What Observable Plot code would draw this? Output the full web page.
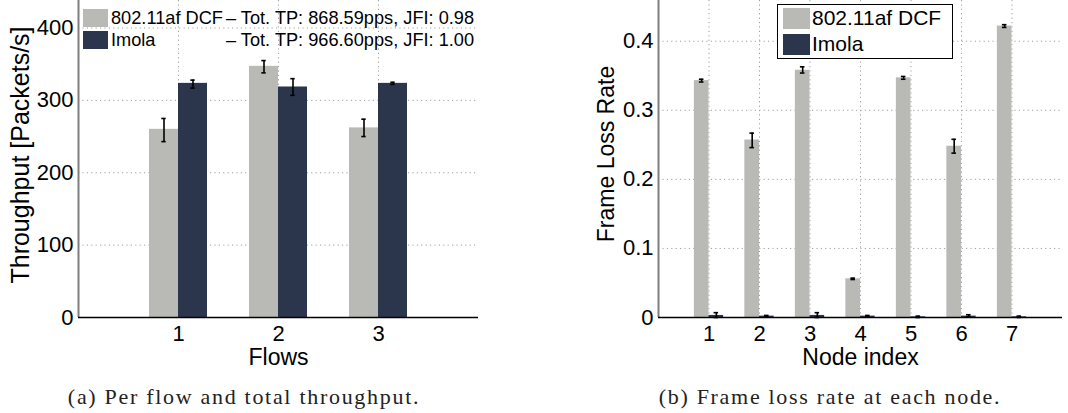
<!DOCTYPE html>
<html>
<head>
<meta charset="utf-8">
<script src="https://cdn.jsdelivr.net/npm/d3@7"></script>
<script src="https://cdn.jsdelivr.net/npm/@observablehq/plot@0.6"></script>
<style>
  html, body { margin: 0; padding: 0; background: #fff; }
  #wrap { position: relative; width: 1068px; height: 413px; background: #fff; overflow: hidden;
          font-family: "Liberation Sans", Arial, sans-serif; color: #000; }
  .panel { position: absolute; top: 0; }
  .legA { position: absolute; left: 83px; top: 7px; font-size: 18.2px; line-height: 22px; }
  .legA .row { display: flex; align-items: center; height: 22px; }
  .legA .sw { width: 25px; height: 18px; margin-right: 3px; }
  .legA .name { width: 115px; }
  .legB { position: absolute; left: 777px; top: 4px; width: 174px; height: 53px; border: 1.5px solid #000;
          background: #fff; font-size: 21px; }
  .legB .row { display: flex; align-items: center; height: 26px; margin-left: 5px; }
  .legB .sw { width: 27px; height: 21px; margin-right: 2px; }
  .cap { position: absolute; top: 384px; font-family: "Liberation Serif", "Times New Roman", serif;
         font-size: 22px; letter-spacing: 1.7px; color: #222; transform: translateX(-50%); white-space: nowrap; }
</style>
</head>
<body>
<div id="wrap">
  <div id="left" class="panel" style="left:0"></div>
  <div id="right" class="panel" style="left:534px"></div>
</div>
<script>
// ---- data ----
const seriesNames = ["802.11af DCF", "Imola"];
const seriesColors = ["#b9bab5", "#2b364d"];

// (a) throughput per flow [packets/s]
const flows = [1, 2, 3];
const dcfThroughput = [260, 347, 262];
const dcfThroughputLo = [243, 338, 250];
const dcfThroughputHi = [275, 355, 274];
const imolaThroughput = [323.5, 318.5, 323.5];
const imolaThroughputLo = [317, 307, 322];
const imolaThroughputHi = [328, 330, 325];
const legendStatsA = ["– Tot. TP: 868.59pps, JFI: 0.98", "– Tot. TP: 966.60pps, JFI: 1.00"];
const throughputTicks = [0, 100, 200, 300, 400];

// (b) frame loss rate per node
const nodes = [1, 2, 3, 4, 5, 6, 7];
const dcfLoss = [0.343, 0.257, 0.358, 0.056, 0.347, 0.248, 0.422];
const dcfLossLo = [0.341, 0.246, 0.354, 0.055, 0.345, 0.238, 0.420];
const dcfLossHi = [0.345, 0.267, 0.363, 0.057, 0.349, 0.258, 0.424];
const imolaLoss = [0.003, 0.002, 0.003, 0.002, 0.001, 0.002, 0.001];
const imolaLossLo = [0.000, 0.001, 0.000, 0.001, 0.000, 0.001, 0.000];
const imolaLossHi = [0.007, 0.003, 0.007, 0.003, 0.002, 0.004, 0.002];
const lossTicks = [0, 0.1, 0.2, 0.3, 0.4];

const captions = ["(a) Per flow and total throughput.", "(b) Frame loss rate at each node."];

// ---- build rows ----
const BW = 0.29; // bar width in category units
function rows(cats, vals, los, his) {
  const out = [];
  cats.forEach((c, i) => {
    vals.forEach((series, s) => {
      out.push({c, s, v: series[i], lo: los[s][i], hi: his[s][i],
        x1: s === 0 ? c - BW : c, x2: s === 0 ? c : c + BW, xc: s === 0 ? c - BW / 2 : c + BW / 2});
    });
  });
  return out;
}
const rowsA = rows(flows, [dcfThroughput, imolaThroughput], [dcfThroughputLo, imolaThroughputLo], [dcfThroughputHi, imolaThroughputHi]);
const rowsB = rows(nodes, [dcfLoss, imolaLoss], [dcfLossLo, imolaLossLo], [dcfLossHi, imolaLossHi]);

const gridStyle = {stroke: "#a0a0a0", strokeOpacity: 1, strokeWidth: 1, strokeDasharray: "1.2,3.2"};

function panel({data, cats, xDomain, yDomain, yTicks, yFmt, width, marginLeft, marginRight, xLabel, yLabel, yLabelSize, yLabelDx, yLabelDy, capHalf}) {
  return Plot.plot({
    width, height: 372, marginLeft, marginRight, marginTop: 0, marginBottom: 55,
    style: {fontFamily: "'Liberation Sans', Arial, sans-serif", fontSize: "22px", color: "#000", background: "transparent", overflow: "visible"},
    x: {domain: xDomain, ticks: cats, tickFormat: "d", tickSize: 0, tickPadding: 8, label: null},
    y: {domain: yDomain, ticks: yTicks, tickFormat: yFmt, tickSize: 0, tickPadding: 5, label: null},
    marks: [
      Plot.gridY(yTicks.filter(t => t > 0), gridStyle),
      Plot.gridX(cats, gridStyle),
      Plot.rectY(data, {x1: "x1", x2: "x2", y: "v", fill: d => seriesColors[d.s], inset: 0}),
      Plot.ruleX(data, {x: "xc", y1: "lo", y2: "hi", stroke: "#000", strokeWidth: 1.6}),
      Plot.ruleY(data, {y: "lo", x1: d => d.xc - capHalf, x2: d => d.xc + capHalf, stroke: "#000", strokeWidth: 1.6}),
      Plot.ruleY(data, {y: "hi", x1: d => d.xc - capHalf, x2: d => d.xc + capHalf, stroke: "#000", strokeWidth: 1.6}),
      Plot.ruleX([xDomain[0]], {stroke: "#7f7f7f", strokeWidth: 2}),
      Plot.ruleY([0], {stroke: "#000", strokeWidth: 1.6}),
      Plot.text([xLabel], {text: d => d, frameAnchor: "bottom", dy: 40, fontSize: 23, lineAnchor: "middle", textAnchor: "middle"}),
      Plot.text([yLabel], {text: d => d, frameAnchor: "left", rotate: -90, dx: yLabelDx, dy: yLabelDy, fontSize: yLabelSize, lineAnchor: "middle", textAnchor: "middle"})
    ]
  });
}

document.getElementById("left").append(panel({
  data: rowsA, cats: flows, xDomain: [0, 4], yDomain: [0, 438], yTicks: throughputTicks, yFmt: "d",
  width: 534, marginLeft: 78, marginRight: 56, xLabel: "Flows", yLabel: "Throughput [Packets/s]",
  yLabelSize: 25, yLabelDx: -58, yLabelDy: -4, capHalf: 0.022
}));
document.getElementById("right").append(panel({
  data: rowsB, cats: nodes, xDomain: [0, 8], yDomain: [0, 0.459], yTicks: lossTicks, yFmt: d => d === 0 ? "0" : String(d),
  width: 534, marginLeft: 124, marginRight: 6, xLabel: "Node index", yLabel: "Frame Loss Rate",
  yLabelSize: 23, yLabelDx: -52, yLabelDy: -5, capHalf: 0.045
}));

// legends
const wrap = document.getElementById("wrap");
const legA = document.createElement("div");
legA.className = "legA";
seriesNames.forEach((n, i) => {
  const r = document.createElement("div"); r.className = "row";
  r.innerHTML = `<div class="sw" style="background:${seriesColors[i]}"></div><div class="name">${n}</div><div>${legendStatsA[i]}</div>`;
  legA.append(r);
});
wrap.append(legA);

const legB = document.createElement("div");
legB.className = "legB";
seriesNames.forEach((n, i) => {
  const r = document.createElement("div"); r.className = "row";
  r.innerHTML = `<div class="sw" style="background:${seriesColors[i]}"></div><div>${n}</div>`;
  legB.append(r);
});
wrap.append(legB);

// captions
[244, 830].forEach((cx, i) => {
  const c = document.createElement("div");
  c.className = "cap"; c.style.left = cx + "px"; c.textContent = captions[i];
  wrap.append(c);
});
</script>
</body>
</html>
